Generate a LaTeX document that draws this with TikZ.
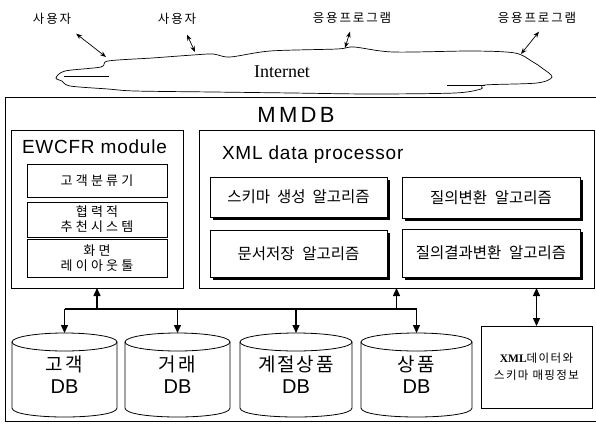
\documentclass[tikz,border=0pt]{standalone}
\usepackage{fontspec}
\setmainfont{Liberation Sans}
\newfontfamily\kr{Noto Sans CJK KR}
\newfontfamily\tnr{Liberation Serif}
\usetikzlibrary{arrows.meta,shadows}
\newcommand\fsz[2]{\fontsize{#1}{#2}\selectfont}
\newcommand\ksp[1]{\addfontfeature{LetterSpace=#1}}
% database cylinder drawn around a named rectangular node
\newcommand\dbcyl[2]{%
  \draw[line width=0.8pt] ([yshift=-9pt]#1.north west) -- ([yshift=9pt]#1.south west)
    .. controls ([yshift=-3pt]#1.south west) and ([yshift=-3pt]#1.south east) ..
    ([yshift=9pt]#1.south east) -- ([yshift=-9pt]#1.north east);
  \draw[line width=0.8pt] ([yshift=-9pt]#1.north) ellipse[x radius=#2pt, y radius=9pt];
}
\begin{document}
\begin{tikzpicture}[x=1pt,y=-1pt,
  every node/.style={inner sep=0pt, outer sep=0pt, align=center},
  frame/.style={draw, line width=0.8pt, anchor=north west, fill=white},
  shbox/.style={frame, line width=0.9pt,
    drop shadow={shadow xshift=3pt, shadow yshift=-3pt, fill=black, opacity=1}},
  dbnode/.style={anchor=north west, minimum height=84pt},
  toplbl/.style={font=\kr\fsz{12.5}{14}\ksp{15}},
  link/.style={line width=0.7pt, {Stealth[length=6pt,width=4.5pt]}-{Stealth[length=6pt,width=4.5pt]}},
  bus/.style={line width=1.4pt},
  bar/.style={line width=1.4pt, -{Triangle[length=8pt,width=7pt]}},
  bar2/.style={line width=1.4pt, {Triangle[length=8pt,width=7pt]}-{Triangle[length=8pt,width=7pt]}},
  ]
\useasboundingbox (0,0) rectangle (596,423);

% ---- Internet cloud ----
\draw[line width=0.7pt, fill=white] plot[smooth cycle, tension=0.5] coordinates {
  (56,78) (65,71) (101,67) (108,61) (152,58) (193,55) (213,54) (230,57) (270,51)
  (337,49) (354,47) (393,52) (472,51) (515,53) (533,62) (542,68) (552,77)
  (537,83) (485,85) (481,89) (455,93) (371,94) (292,93) (213,92) (135,91)
  (108,89) (70,86) (62,81)};
\draw[line width=0.7pt] (64,76) -- (109,76);
\draw[line width=0.7pt] (447,85) -- (485,85);
\node[font=\tnr\fsz{18}{20}] (net) at (282,72) {Internet};

% ---- clients around the cloud ----
\node[toplbl] (u1) at (52,19) {사용자};
\node[toplbl] (u2) at (177,19) {사용자};
\node[toplbl] (a1) at (352,18) {응용프로그램};
\node[toplbl] (a2) at (537,18) {응용프로그램};
\coordinate (p1) at (106,57);
\coordinate (p2) at (195,52);
\coordinate (p3) at (345,48);
\coordinate (p4) at (521,54);
\draw[link] ([shift={(5,9)}]u1.south east) -- (p1);
\draw[link] ([shift={(10,10)}]u2.south) -- (p2);
\draw[link] ([shift={(-2,8)}]a1.south) -- (p3);
\draw[link] ([shift={(2,8)}]a2.south) -- (p4);

% ---- MMDB system frame ----
\node[frame, minimum width=593pt, minimum height=324pt] (mmdb) at (5,97) {};
\node[font=\fsz{22}{24}\ksp{15}] (mmdbt) at (296,115) {MMDB};

% ---- EWCFR module ----
\node[frame, minimum width=172pt, minimum height=158pt] (ew) at (11,130) {};
\node[font=\fsz{19}{21}\ksp{4}, anchor=west] (ewt) at (22,147) {EWCFR module};
\node[frame, minimum width=140pt, minimum height=33pt, font=\kr\fsz{13}{15}\ksp{25}] (k1) at (27,164) {고객분류기};
\node[frame, minimum width=140pt, minimum height=35pt, font=\kr\fsz{13}{15}\ksp{25}] (k2) at (27,202) {협력적\\추천시스템};
\node[frame, minimum width=140pt, minimum height=38pt, font=\kr\fsz{13}{15}\ksp{25}] (k3) at (27,239) {화면\\레이아웃툴};

% ---- XML data processor ----
\node[frame, minimum width=395pt, minimum height=158pt] (xp) at (199,130) {};
\node[font=\fsz{19}{21}\ksp{4}, anchor=west] (xpt) at (222,155) {XML data processor};
\node[shbox, minimum width=177pt, minimum height=40pt, font=\kr\fsz{15.5}{18}] (s1) at (210,177) {스키마\hspace{0.45em}생성\hspace{0.45em}알고리즘};
\node[shbox, minimum width=178pt, minimum height=41pt, font=\kr\fsz{15.5}{18}] (s2) at (402,177) {질의변환\hspace{0.5em}알고리즘};
\node[shbox, minimum width=177pt, minimum height=47pt, font=\kr\fsz{15.5}{18}] (s3) at (210,230) {문서저장\hspace{0.5em}알고리즘};
\node[shbox, minimum width=178pt, minimum height=48pt, font=\kr\fsz{15.5}{18}] (s4) at (402,229) {질의결과변환\hspace{0.5em}알고리즘};

% ---- databases ----
\node[dbnode, minimum width=105pt, font=\fsz{20}{22}] (c1) at (12,333) {{\kr\fsz{19}{22}\ksp{12}고객}\\DB};
\node[dbnode, minimum width=105pt, font=\fsz{20}{22}] (c2) at (125,333) {{\kr\fsz{19}{22}\ksp{12}거래}\\DB};
\node[dbnode, minimum width=112pt, font=\fsz{20}{22}] (c3) at (240,333) {{\kr\fsz{19}{22}\ksp{10}계절상품}\\DB};
\node[dbnode, minimum width=111pt, font=\fsz{20}{22}] (c4) at (361,333) {{\kr\fsz{19}{22}\ksp{12}상품}\\DB};
\dbcyl{c1}{52.5}
\dbcyl{c2}{52.5}
\dbcyl{c3}{56}
\dbcyl{c4}{55.5}

% ---- XML / schema mapping store ----
\node[frame, minimum width=111pt, minimum height=82pt, font=\fsz{11.5}{17}] (m) at (481,326)
  {{\tnr\bfseries XML}{\kr\ksp{12}데이터와}\\{\kr\ksp{12}스키마 매핑정보}};

% ---- connections ----
\coordinate (bl) at (c1.north |- 0,309);
\coordinate (br) at (c4.north |- 0,309);
\draw[bus] (bl) -- (br);
\draw[bar] (bl) -- (c1.north);
\draw[bar] (c2.north |- bl) -- (c2.north);
\draw[bar] (c3.north |- bl) -- (c3.north);
\draw[bar] (br) -- (c4.north);
\draw[bar] (ew.south |- bl) -- (ew.south);
\draw[bar] (xp.south |- bl) -- (xp.south);
\draw[bar2] (m.north) -- (m.north |- xp.south);
\end{tikzpicture}
\end{document}
